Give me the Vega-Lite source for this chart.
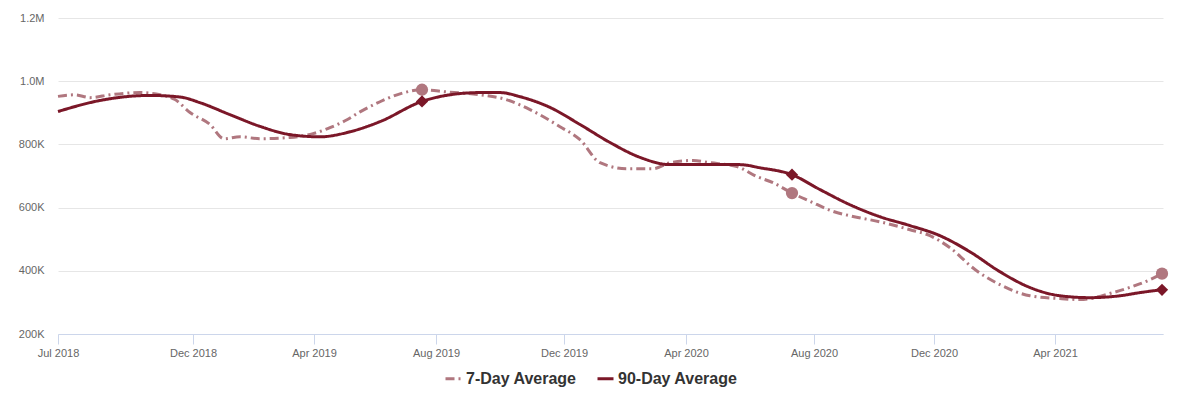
{
  "$schema": "https://vega.github.io/schema/vega-lite/v6.json",
  "autosize": {"type": "none"},
  "width": 1105,
  "height": 316,
  "padding": {"left": 58, "top": 18, "right": 21, "bottom": 72},
  "background": "#ffffff",
  "config": {
    "font": "Liberation Sans",
    "view": {"stroke": null},
    "axis": {"labelFont": "Liberation Sans", "labelFontSize": 11, "labelColor": "#666666", "titleColor": "#666666"}
  },
  "datasets": {
    "series": [
      {"d": "2018-07-19", "s": "7-Day Average", "v": 952000},
      {"d": "2018-08-05", "s": "7-Day Average", "v": 957000},
      {"d": "2018-08-20", "s": "7-Day Average", "v": 948000},
      {"d": "2018-09-09", "s": "7-Day Average", "v": 957000},
      {"d": "2018-10-09", "s": "7-Day Average", "v": 964000},
      {"d": "2018-10-29", "s": "7-Day Average", "v": 957000},
      {"d": "2018-11-13", "s": "7-Day Average", "v": 942000},
      {"d": "2018-11-28", "s": "7-Day Average", "v": 901000},
      {"d": "2018-12-18", "s": "7-Day Average", "v": 863000},
      {"d": "2019-01-01", "s": "7-Day Average", "v": 818000},
      {"d": "2019-01-17", "s": "7-Day Average", "v": 824000},
      {"d": "2019-02-06", "s": "7-Day Average", "v": 818000},
      {"d": "2019-03-08", "s": "7-Day Average", "v": 822000},
      {"d": "2019-03-31", "s": "7-Day Average", "v": 834000},
      {"d": "2019-04-17", "s": "7-Day Average", "v": 853000},
      {"d": "2019-05-04", "s": "7-Day Average", "v": 878000},
      {"d": "2019-05-17", "s": "7-Day Average", "v": 903000},
      {"d": "2019-06-06", "s": "7-Day Average", "v": 935000},
      {"d": "2019-06-26", "s": "7-Day Average", "v": 960000},
      {"d": "2019-07-18", "s": "7-Day Average", "v": 973000, "h": 1},
      {"d": "2019-08-12", "s": "7-Day Average", "v": 966000},
      {"d": "2019-09-14", "s": "7-Day Average", "v": 957000},
      {"d": "2019-10-11", "s": "7-Day Average", "v": 941000},
      {"d": "2019-11-03", "s": "7-Day Average", "v": 910000},
      {"d": "2019-12-03", "s": "7-Day Average", "v": 856000},
      {"d": "2019-12-23", "s": "7-Day Average", "v": 815000},
      {"d": "2020-01-12", "s": "7-Day Average", "v": 742000},
      {"d": "2020-02-08", "s": "7-Day Average", "v": 723000},
      {"d": "2020-03-05", "s": "7-Day Average", "v": 723000},
      {"d": "2020-03-22", "s": "7-Day Average", "v": 742000},
      {"d": "2020-04-14", "s": "7-Day Average", "v": 749000},
      {"d": "2020-05-01", "s": "7-Day Average", "v": 742000},
      {"d": "2020-05-28", "s": "7-Day Average", "v": 730000},
      {"d": "2020-06-17", "s": "7-Day Average", "v": 698000},
      {"d": "2020-07-03", "s": "7-Day Average", "v": 679000},
      {"d": "2020-07-22", "s": "7-Day Average", "v": 646000, "h": 1},
      {"d": "2020-08-09", "s": "7-Day Average", "v": 620000},
      {"d": "2020-09-01", "s": "7-Day Average", "v": 588000},
      {"d": "2020-09-21", "s": "7-Day Average", "v": 572000},
      {"d": "2020-10-18", "s": "7-Day Average", "v": 555000},
      {"d": "2020-11-17", "s": "7-Day Average", "v": 530000},
      {"d": "2020-12-07", "s": "7-Day Average", "v": 511000},
      {"d": "2020-12-27", "s": "7-Day Average", "v": 473000},
      {"d": "2021-01-21", "s": "7-Day Average", "v": 404000},
      {"d": "2021-02-15", "s": "7-Day Average", "v": 356000},
      {"d": "2021-03-17", "s": "7-Day Average", "v": 321000},
      {"d": "2021-04-16", "s": "7-Day Average", "v": 312000},
      {"d": "2021-05-06", "s": "7-Day Average", "v": 309000},
      {"d": "2021-06-08", "s": "7-Day Average", "v": 331000},
      {"d": "2021-06-28", "s": "7-Day Average", "v": 351000},
      {"d": "2021-07-15", "s": "7-Day Average", "v": 372000},
      {"d": "2021-07-27", "s": "7-Day Average", "v": 391000, "h": 1},
      {"d": "2018-07-19", "s": "90-Day Average", "v": 904000},
      {"d": "2018-08-30", "s": "90-Day Average", "v": 939000},
      {"d": "2018-10-19", "s": "90-Day Average", "v": 955000},
      {"d": "2018-11-18", "s": "90-Day Average", "v": 950000},
      {"d": "2018-12-08", "s": "90-Day Average", "v": 932000},
      {"d": "2019-01-07", "s": "90-Day Average", "v": 894000},
      {"d": "2019-02-06", "s": "90-Day Average", "v": 857000},
      {"d": "2019-03-08", "s": "90-Day Average", "v": 831000},
      {"d": "2019-04-07", "s": "90-Day Average", "v": 824000},
      {"d": "2019-05-07", "s": "90-Day Average", "v": 840000},
      {"d": "2019-06-06", "s": "90-Day Average", "v": 872000},
      {"d": "2019-07-18", "s": "90-Day Average", "v": 936000, "h": 1},
      {"d": "2019-08-15", "s": "90-Day Average", "v": 957000},
      {"d": "2019-09-14", "s": "90-Day Average", "v": 964000},
      {"d": "2019-10-04", "s": "90-Day Average", "v": 964000},
      {"d": "2019-10-24", "s": "90-Day Average", "v": 951000},
      {"d": "2019-11-23", "s": "90-Day Average", "v": 917000},
      {"d": "2019-12-23", "s": "90-Day Average", "v": 863000},
      {"d": "2020-01-22", "s": "90-Day Average", "v": 806000},
      {"d": "2020-02-21", "s": "90-Day Average", "v": 759000},
      {"d": "2020-03-22", "s": "90-Day Average", "v": 736000},
      {"d": "2020-04-21", "s": "90-Day Average", "v": 736000},
      {"d": "2020-05-31", "s": "90-Day Average", "v": 736000},
      {"d": "2020-06-20", "s": "90-Day Average", "v": 726000},
      {"d": "2020-07-22", "s": "90-Day Average", "v": 704000, "h": 1},
      {"d": "2020-08-19", "s": "90-Day Average", "v": 657000},
      {"d": "2020-09-18", "s": "90-Day Average", "v": 609000},
      {"d": "2020-10-18", "s": "90-Day Average", "v": 571000},
      {"d": "2020-11-17", "s": "90-Day Average", "v": 543000},
      {"d": "2020-12-17", "s": "90-Day Average", "v": 511000},
      {"d": "2021-01-16", "s": "90-Day Average", "v": 460000},
      {"d": "2021-02-15", "s": "90-Day Average", "v": 397000},
      {"d": "2021-03-17", "s": "90-Day Average", "v": 347000},
      {"d": "2021-04-16", "s": "90-Day Average", "v": 321000},
      {"d": "2021-05-16", "s": "90-Day Average", "v": 315000},
      {"d": "2021-06-15", "s": "90-Day Average", "v": 321000},
      {"d": "2021-07-05", "s": "90-Day Average", "v": 331000},
      {"d": "2021-07-27", "s": "90-Day Average", "v": 340000, "h": 1}
    ]
  },
  "data": {"name": "series"},
  "encoding": {
    "x": {
      "field": "d",
      "type": "temporal",
      "scale": {
        "type": "utc",
        "domain": [
          {"year": 2018, "month": 7, "date": 19, "utc": true},
          {"year": 2021, "month": 7, "date": 28, "utc": true}
        ]
      },
      "axis": {
        "title": null,
        "labelExpr": "utcFormat(datum.value, '%b %Y')",
        "values": [
          {"year": 2018, "month": 7, "date": 19, "utc": true},
          {"year": 2018, "month": 12, "date": 1, "utc": true},
          {"year": 2019, "month": 4, "date": 1, "utc": true},
          {"year": 2019, "month": 8, "date": 1, "utc": true},
          {"year": 2019, "month": 12, "date": 7, "utc": true},
          {"year": 2020, "month": 4, "date": 7, "utc": true},
          {"year": 2020, "month": 8, "date": 13, "utc": true},
          {"year": 2020, "month": 12, "date": 11, "utc": true},
          {"year": 2021, "month": 4, "date": 11, "utc": true}
        ],
        "grid": false,
        "domainColor": "#ccd6eb",
        "domainWidth": 1,
        "tickColor": "#ccd6eb",
        "tickSize": 10,
        "labelPadding": 3,
        "labelFlush": false,
        "labelOverlap": false
      }
    },
    "y": {
      "field": "v",
      "type": "quantitative",
      "scale": {"domain": [200000, 1200000], "nice": false, "zero": false},
      "axis": {
        "title": null,
        "values": [200000, 400000, 600000, 800000, 1000000, 1200000],
        "labelExpr": "datum.value >= 1000000 ? format(datum.value / 1000000, '.1f') + 'M' : format(datum.value / 1000, 'd') + 'K'",
        "domain": false,
        "ticks": false,
        "grid": true,
        "gridColor": "#e6e6e6",
        "labelPadding": 14
      }
    }
  },
  "layer": [
    {
      "mark": {"type": "line", "interpolate": "monotone", "strokeWidth": 3, "strokeCap": "butt"},
      "encoding": {
        "color": {
          "field": "s",
          "type": "nominal",
          "scale": {"domain": ["7-Day Average", "90-Day Average"], "range": ["#b0777f", "#7b1728"]},
          "legend": {
            "title": null,
            "orient": "none",
            "direction": "horizontal",
            "legendX": 386,
            "legendY": 351,
            "symbolType": "stroke",
            "symbolSize": 256,
            "symbolStrokeWidth": 3,
            "labelFont": "Liberation Sans",
            "labelFontSize": 16,
            "labelFontWeight": "bold",
            "labelColor": "#333333",
            "labelOffset": 3,
            "columnPadding": 14
          }
        },
        "strokeDash": {
          "field": "s",
          "type": "nominal",
          "scale": {"domain": ["7-Day Average", "90-Day Average"], "range": [[9, 4, 2, 4], [1, 0]]},
          "legend": {
            "title": null,
            "orient": "none",
            "direction": "horizontal",
            "legendX": 386,
            "legendY": 351,
            "symbolType": "stroke",
            "symbolSize": 256,
            "symbolStrokeWidth": 3,
            "labelFont": "Liberation Sans",
            "labelFontSize": 16,
            "labelFontWeight": "bold",
            "labelColor": "#333333",
            "labelOffset": 3,
            "columnPadding": 14
          }
        }
      }
    },
    {
      "transform": [{"filter": "datum.h == 1 && datum.s == '7-Day Average'"}],
      "mark": {"type": "point", "shape": "circle", "filled": true, "size": 150, "color": "#b0777f", "opacity": 1}
    },
    {
      "transform": [{"filter": "datum.h == 1 && datum.s == '90-Day Average'"}],
      "mark": {"type": "point", "shape": "diamond", "filled": true, "size": 150, "color": "#7b1728", "opacity": 1}
    }
  ]
}
